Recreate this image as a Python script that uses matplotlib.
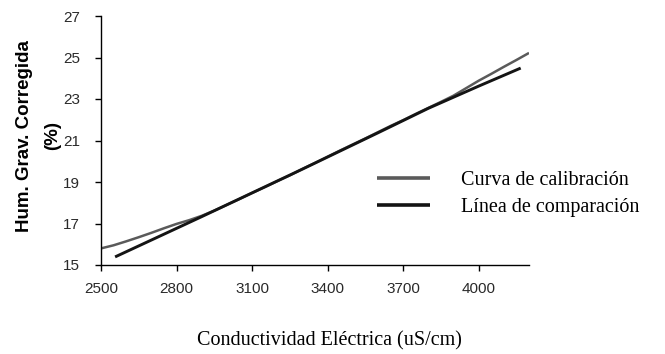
import matplotlib
matplotlib.use("Agg")
import matplotlib.pyplot as plt
from matplotlib.lines import Line2D

# Calibration curve: electrical conductivity (uS/cm) vs corrected gravimetric moisture (%)
cal_x = [2500, 2550, 2600, 2650, 2700, 2750, 2800, 2850, 2900, 2950,
         3000, 3050, 3100, 3150, 3200, 3250, 3300, 3350, 3400, 3450,
         3500, 3550, 3600, 3650, 3700, 3750, 3800, 3850, 3900, 3950,
         4000, 4050, 4100, 4150, 4200]
cal_y = [15.80, 15.95, 16.14, 16.34, 16.55, 16.77, 16.98, 17.16, 17.37, 17.62,
         17.90, 18.18, 18.47, 18.75, 19.04, 19.32, 19.63, 19.92, 20.22, 20.52,
         20.81, 21.10, 21.40, 21.70, 21.98, 22.28, 22.57, 22.86, 23.16, 23.52,
         23.88, 24.21, 24.55, 24.88, 25.22]

# Comparison line
cmp_x = [2556, 2900, 3300, 3600, 3800, 4000, 4167]
cmp_y = [15.39, 17.33, 19.62, 21.37, 22.55, 23.62, 24.49]

x_ticks = [2500, 2800, 3100, 3400, 3700, 4000]
y_ticks = [15, 17, 19, 21, 23, 25, 27]

labels = ["Curva de calibración", "Línea de comparación"]
colors = ["#5a5a5a", "#141414"]

fig = plt.figure(figsize=(6.65, 3.54), dpi=100)
ax = fig.add_axes([101 / 665, 1 - 265 / 354, 428 / 665, 249 / 354])

ax.plot(cal_x, cal_y, color=colors[0], lw=1.8, solid_capstyle="butt")
ax.plot(cmp_x, cmp_y, color=colors[1], lw=2.1, solid_capstyle="butt")

ax.set_xlim(2500, 4200)
ax.set_ylim(15, 27)
ax.set_xticks(x_ticks)
ax.set_yticks(y_ticks)

for s in ("top", "right"):
    ax.spines[s].set_visible(False)
for s in ("left", "bottom"):
    ax.spines[s].set_linewidth(1.0)
    ax.spines[s].set_color("black")

ax.tick_params(axis="both", direction="out", length=4, width=1.0,
               labelsize=11, labelcolor="#2a2a2a")
ax.tick_params(axis="x", pad=8.5)
ax.tick_params(axis="y", pad=11)
for lab in ax.get_xticklabels() + ax.get_yticklabels():
    lab.set_family("Liberation Sans")

handles = [Line2D([], [], color=c, lw=2.6, solid_capstyle="butt") for c in colors]
ax.legend(handles, labels, loc="center left", bbox_to_anchor=(0.645, 0.285),
          frameon=False, borderpad=0, borderaxespad=0,
          handlelength=2.63, handletextpad=1.54, labelspacing=0.36,
          prop={"family": "Liberation Serif", "size": 14.5})

fig.text(0.058, 0.616, "Hum. Grav. Corregida\n(%)", rotation=90,
         ha="center", va="center", multialignment="center",
         family="Liberation Sans", weight="bold", fontsize=13.5,
         linespacing=1.8)

fig.text(0.495, 0.038, "Conductividad Eléctrica (uS/cm)",
         ha="center", va="center", family="Liberation Serif", fontsize=14.5)

fig.savefig("out.png", dpi=100)
